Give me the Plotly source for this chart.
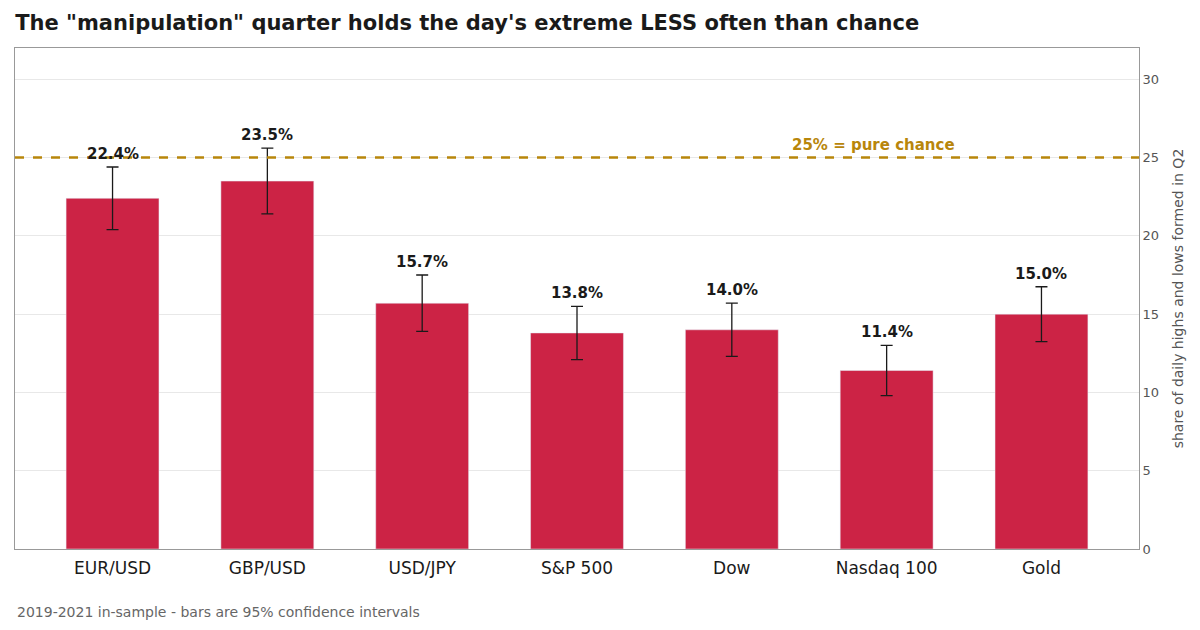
import plotly.graph_objects as go

categories = ["EUR/USD", "GBP/USD", "USD/JPY", "S&P 500", "Dow", "Nasdaq 100", "Gold"]
values = [22.4, 23.5, 15.7, 13.8, 14.0, 11.4, 15.0]
errors = [2.0, 2.1, 1.8, 1.7, 1.7, 1.6, 1.75]
chance = 25

fig = go.Figure()
fig.add_trace(go.Bar(
    x=categories, y=values, width=0.6, marker_color="#CC2345",
    error_y=dict(type="data", array=errors, color="#1a1a1a", thickness=1.3, width=6),
    yaxis="y2", showlegend=False))
for c, v, e in zip(categories, values, errors):
    fig.add_annotation(x=c, y=v + e, yref="y2", text=f"<b>{v:.1f}%</b>", showarrow=False,
                       yanchor="bottom", yshift=2, font=dict(size=15, color="#1a1a1a"))
fig.add_shape(type="line", xref="paper", x0=0, x1=1, yref="y2", y0=chance, y1=chance,
              line=dict(color="#B8860B", width=2.5, dash="dash"))
fig.add_annotation(x=5, xref="x", y=chance, yref="y2", text="<b>25% = pure chance</b>",
                   showarrow=False, xanchor="right", yanchor="bottom", xshift=70, yshift=2,
                   font=dict(size=15, color="#B8860B"))
fig.update_layout(
    width=1200, height=630, plot_bgcolor="white", paper_bgcolor="white",
    margin=dict(l=7, r=69, t=40, b=89),
    font=dict(family="DejaVu Sans"),
    title=dict(text="<b>The \"manipulation\" quarter holds the day's extreme LESS often than chance</b>",
               x=0.006, xanchor="left", y=0.988, yanchor="top", font=dict(size=21, color="#1a1a1a")),
    xaxis=dict(tickfont=dict(size=17, color="#1a1a1a"), showline=True, linecolor="#999", mirror=True,
               range=[-0.63, 6.63], ticklabelstandoff=4),
    yaxis2=dict(side="right", overlaying=None, anchor="x", range=[0, 32], dtick=5,
                gridcolor="#e8e8e8", showline=True, linecolor="#999", mirror=True,
                tickfont=dict(size=13, color="#555"),
                title=dict(text="share of daily highs and lows formed in Q2", font=dict(size=14, color="#555"))),
    yaxis=dict(visible=False),
)
fig.add_annotation(xref="paper", yref="paper", x=0, y=-0.105, xanchor="left", yanchor="top",
                   text="2019-2021 in-sample - bars are 95% confidence intervals", showarrow=False,
                   font=dict(size=14, color="#666"))
fig.write_html("out.html")
